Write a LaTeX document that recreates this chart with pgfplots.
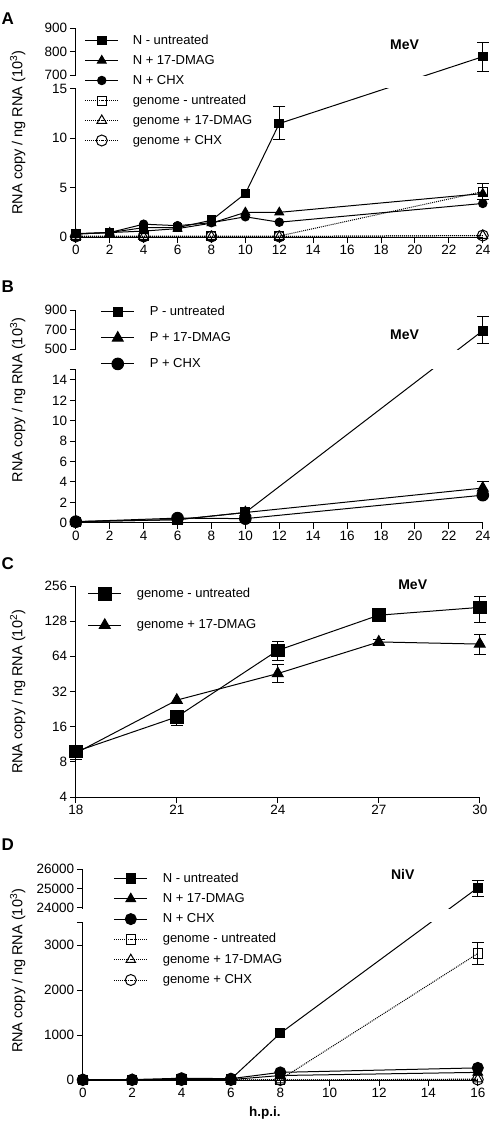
\documentclass[border=0pt]{standalone}
\usepackage{pgfplots}
\pgfplotsset{compat=1.18}
\usepackage{fontspec}
\setmainfont{Liberation Sans}
\newcommand\fputrafo[1]{\begingroup\pgfkeys{/pgf/fpu=true,/pgf/fpu/output format=fixed}\pgfmathparse{#1}\global\let\gtrafores\pgfmathresult\endgroup\let\pgfmathresult\gtrafores}
\begin{document}
\pgfplotsset{
  gp/.style={
    scale only axis,
    axis x line=bottom, axis y line=left,
    axis line style={-, line width=1pt, black},
    every outer x axis line/.append style={-},
    every outer y axis line/.append style={-},
    tick style={black, line width=1pt},
    tick align=outside,
    major tick length=6pt,
    clip=false,
    ticklabel style={font=\fontsize{13.5}{15}\selectfont},
    xticklabel style={inner sep=1.5pt, text height=10pt, text depth=0pt},
    yticklabel style={inner sep=2.5pt},
    /pgf/number format/assume math mode=true,
    scaled ticks=false,
    legend cell align=left,
    legend image code/.code={\draw[mark repeat=2,mark phase=2,##1] plot coordinates {(0pt,0pt) (16.5pt,0pt) (33pt,0pt)};},
    legend style={draw=none, fill=none, inner sep=0pt, outer sep=0pt, anchor=north west,
       font=\fontsize{13}{15}\selectfont,
       nodes={inner sep=0pt, text height=10pt, text depth=3pt},
       /tikz/every odd column/.append style={column sep=14pt}},
    ylabel style={font=\fontsize{14.5}{16}\selectfont, anchor=center},
  },
  ln/.style={black, line width=1pt},
  dl/.style={black, line width=1pt, densely dotted},
  eb/.style={black, line width=1pt, mark=-, mark size=6pt, forget plot},
}
\begin{tikzpicture}
\path[use as bounding box] (0,0) rectangle (488pt,-1122pt);
% ---------------- Panel A ----------------
\node[font=\bfseries\fontsize{17}{18}\selectfont] at (5pt,-19pt) {A};
\begin{axis}[gp, at={(73pt,-237pt)}, anchor=south west, width=407pt, height=209pt,
  xmin=0, xmax=24, ymin=0, ymax=900,
  y coord trafo/.code={\fputrafo{ifthenelse(#1<100,#1*9.867,162+(#1-700)*0.235)}},
  xtick={0,2,...,24},
  ytick={0,5,10,15,700,800,900}, yticklabels={0,5,10,15,700,800,900},
  ylabel={RNA copy / ng RNA (10\textsuperscript{3})},
  ylabel style={at={(axis description cs:-0.1425,0.5)}},
  legend style={at={(axis description cs:0.0221,0.9713)}, row sep=7pt},
]
\addplot[eb] coordinates {(12,9.9) (12,13.2)};
\addplot[eb] coordinates {(24,717) (24,839)};
\addplot[eb] coordinates {(24,3.8) (24,5.4)};
\addplot[ln, mark=square*, mark size=4.3pt] coordinates {(0,0.35) (2,0.45) (4,0.95) (6,0.95) (8,1.7) (10,4.4) (12,11.5) (24,778)};
\addlegendentry{N - untreated}
\addplot[ln, mark=triangle*, mark size=5pt] coordinates {(0,0.3) (2,0.45) (4,0.6) (6,0.85) (8,1.4) (10,2.5) (12,2.5) (24,4.4)};
\addlegendentry{N + 17-DMAG}
\addplot[ln, mark=*, mark size=4.2pt] coordinates {(0,0.3) (2,0.45) (4,1.3) (6,1.15) (8,1.45) (10,2.05) (12,1.5) (24,3.4)};
\addlegendentry{N + CHX}
\addplot[dl, mark=square, mark size=4.5pt, mark options={solid}] coordinates {(0,0.1) (4,0.1) (8,0.1) (12,0.1) (24,4.6)};
\addlegendentry{genome - untreated}
\addplot[dl, mark=triangle, mark size=5.5pt, mark options={solid}] coordinates {(0,0.05) (4,0.05) (8,0.05) (12,0.05) (24,0.15)};
\addlegendentry{genome + 17-DMAG}
\addplot[dl, mark=o, mark size=5.5pt, mark options={solid}] coordinates {(0,0.05) (4,0.05) (8,0.05) (12,0.05) (24,0.15)};
\addlegendentry{genome + CHX}
\fill[white] ([xshift=-4pt,yshift=0.8pt]axis cs:0,15) rectangle ([xshift=2pt,yshift=-0.8pt]axis cs:24,700);
\node[font=\bfseries\fontsize{14}{16}\selectfont] at (axis description cs:0.808,0.919) {MeV};
\end{axis}
% ---------------- Panel B ----------------
\node[font=\bfseries\fontsize{17}{18}\selectfont] at (5pt,-287pt) {B};
\begin{axis}[gp, at={(73pt,-522.7pt)}, anchor=south west, width=407pt, height=212.7pt,
  xmin=0, xmax=24, ymin=0, ymax=900,
  y coord trafo/.code={\fputrafo{ifthenelse(#1<100,#1*10.2,173.4+(#1-500)*0.09825)}},
  xtick={0,2,...,24},
  ytick={0,2,4,6,8,10,12,14,15,500,700,900}, yticklabels={0,2,4,6,8,10,12,14,{},500,700,900},
  ylabel={RNA copy / ng RNA (10\textsuperscript{3})},
  ylabel style={at={(axis description cs:-0.1425,0.577)}},
  legend style={at={(axis description cs:0.0614,1.0216)}, row sep=13pt,
     /tikz/every odd column/.append style={column sep=15pt}},
]
\addplot[eb] coordinates {(24,557) (24,829)};
\addplot[eb] coordinates {(24,2.8) (24,4.0)};
\addplot[ln, mark=square*, mark size=4.6pt] coordinates {(0,0.1) (6,0.3) (10,1.0) (24,690)};
\addlegendentry{P - untreated}
\addplot[ln, mark=triangle*, mark size=6.2pt] coordinates {(0,0.1) (6,0.3) (10,1.0) (24,3.4)};
\addlegendentry{P + 17-DMAG}
\addplot[ln, mark=*, mark size=5.8pt] coordinates {(0,0.1) (6,0.45) (10,0.4) (24,2.7)};
\addlegendentry{P + CHX}
\fill[white] ([xshift=-4pt,yshift=0.8pt]axis cs:0,15) rectangle ([xshift=2pt,yshift=-0.8pt]axis cs:24,500);
\node[font=\bfseries\fontsize{14}{16}\selectfont] at (axis description cs:0.808,0.882) {MeV};
\end{axis}
% ---------------- Panel C ----------------
\node[font=\bfseries\fontsize{17}{18}\selectfont] at (5pt,-564pt) {C};
\begin{axis}[gp, at={(73pt,-797pt)}, anchor=south west, width=404pt, height=211pt,
  xmin=18, xmax=30, ymode=log, log basis y=2, ymin=4, ymax=256,
  xtick={18,21,...,30},
  ytick={4,8,16,32,64,128,256}, yticklabels={4,8,16,32,64,128,256},
  ylabel={RNA copy / ng RNA (10\textsuperscript{2})},
  ylabel style={at={(axis description cs:-0.144,0.498)}},
  legend style={at={(axis description cs:0.0297,0.9934)}, row sep=18.3pt,
     /tikz/every odd column/.append style={column sep=15pt}},
]
\addplot[eb] coordinates {(18,8.3) (18,10.9)};
\addplot[eb] coordinates {(21,16.5) (21,22.2)};
\addplot[eb] coordinates {(24,59) (24,85)};
\addplot[eb] coordinates {(27,136) (27,152)};
\addplot[eb] coordinates {(30,125) (30,209)};
\addplot[eb] coordinates {(24,38) (24,54.7)};
\addplot[eb] coordinates {(27,80) (27,90)};
\addplot[eb] coordinates {(30,67) (30,98)};
\addplot[ln, mark=square*, mark size=6.3pt] coordinates {(18,9.8) (21,19.4) (24,72) (27,144) (30,168)};
\addlegendentry{genome - untreated}
\addplot[ln, mark=triangle*, mark size=6.3pt] coordinates {(18,9.5) (21,27) (24,45.6) (27,85) (30,81.5)};
\addlegendentry{genome + 17-DMAG}
\node[font=\bfseries\fontsize{14}{16}\selectfont] at (axis description cs:0.834,1.005) {MeV};
\end{axis}
% ---------------- Panel D ----------------
\node[font=\bfseries\fontsize{17}{18}\selectfont] at (5pt,-845pt) {D};
\begin{axis}[gp, at={(80pt,-1080pt)}, anchor=south west, width=395pt, height=211pt,
  xmin=0, xmax=16, ymin=0, ymax=26000,
  y coord trafo/.code={\fputrafo{ifthenelse(#1<10000,#1*0.04494,172.3+(#1-24000)*0.01935)}},
  xtick={0,2,...,16},
  ytick={0,1000,2000,3000,3500,24000,25000,26000}, yticklabels={0,1000,2000,3000,{},24000,25000,26000},
  ylabel={RNA copy / ng RNA (10\textsuperscript{3})},
  ylabel style={at={(axis description cs:-0.165,0.517)}},
  xlabel={\textbf{h.p.i.}},
  xlabel style={at={(axis description cs:0.461,-0.158)}, anchor=center, font=\fontsize{13.5}{15}\selectfont},
  legend style={at={(axis description cs:0.0785,0.9858)}, row sep=7.3pt,
     /tikz/every odd column/.append style={column sep=15pt}},
]
\addplot[eb] coordinates {(16,24600) (16,25420)};
\addplot[eb] coordinates {(16,2570) (16,3050)};
\addplot[ln, mark=square*, mark size=4.7pt] coordinates {(0,0) (2,0) (4,20) (6,20) (8,1040) (16,25030)};
\addlegendentry{N - untreated}
\addplot[ln, mark=triangle*, mark size=5.5pt] coordinates {(0,5) (2,5) (4,10) (6,10) (8,100) (16,170)};
\addlegendentry{N + 17-DMAG}
\addplot[ln, mark=*, mark size=5.5pt] coordinates {(0,10) (2,10) (4,40) (6,30) (8,170) (16,270)};
\addlegendentry{N + CHX}
\addplot[dl, mark=square, mark size=4.7pt, mark options={solid}] coordinates {(0,0) (2,0) (4,0) (6,0) (8,10) (16,2815)};
\addlegendentry{genome - untreated}
\addplot[dl, mark=triangle, mark size=5.5pt, mark options={solid}] coordinates {(0,0) (2,0) (4,0) (6,0) (8,0) (16,20)};
\addlegendentry{genome + 17-DMAG}
\addplot[dl, mark=o, mark size=5.5pt, mark options={solid}] coordinates {(0,0) (2,0) (4,0) (6,0) (8,0) (16,10)};
\addlegendentry{genome + CHX}
\fill[white] ([xshift=-4pt,yshift=0.8pt]axis cs:0,3500) rectangle ([xshift=2pt,yshift=-0.8pt]axis cs:16,24000);
\node[font=\bfseries\fontsize{14}{16}\selectfont] at (axis description cs:0.81,0.972) {NiV};
\end{axis}
\end{tikzpicture}
\end{document}
